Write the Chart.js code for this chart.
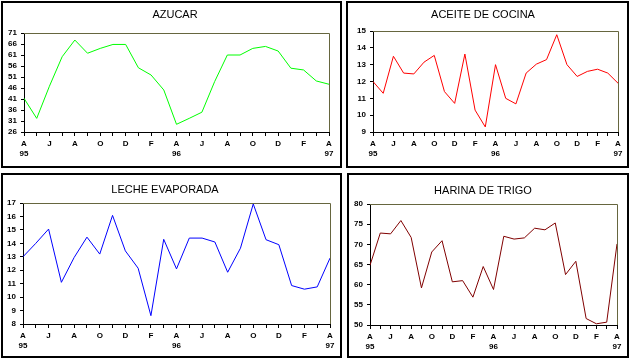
<!DOCTYPE html>
<html>
<head>
<meta charset="utf-8">
<script src="https://cdn.jsdelivr.net/npm/chart.js@4/dist/chart.umd.min.js"></script>
<style>
  body { margin: 0; background: #fff; width: 630px; height: 359px; position: relative; overflow: hidden; }
  .panel { position: absolute; box-sizing: border-box; border: 2px solid #000; background: #fff; }
  .panel canvas { position: absolute; left: 0; top: 0; }
</style>
</head>
<body>
<div class="panel" style="left:1px;top:1px;width:341px;height:167px"><canvas id="azucar" width="337" height="163"></canvas></div>
<div class="panel" style="left:346px;top:1px;width:283px;height:167px"><canvas id="aceite" width="279" height="163"></canvas></div>
<div class="panel" style="left:1px;top:173px;width:341px;height:185px"><canvas id="leche" width="337" height="181"></canvas></div>
<div class="panel" style="left:347px;top:173px;width:282px;height:185px"><canvas id="harina" width="278" height="181"></canvas></div>
<script>
// abril 95 .. abril 97, mensual
const months = ['A', 'M', 'J', 'J', 'A', 'S', 'O', 'N', 'D', 'E', 'F', 'M',
  'A', 'M', 'J', 'J', 'A', 'S', 'O', 'N', 'D', 'E', 'F', 'M', 'A'];
const years = ['95', '', '', '', '', '', '', '', '', '', '', '',
  '96', '', '', '', '', '', '', '', '', '', '', '', '97'];

const azucar = [41.3, 32.2, 46.8, 60.2, 67.8, 61.8, 64.0, 65.8, 65.8, 55.2, 51.9, 45.1,
  29.5, 32.2, 35.0, 48.9, 61.0, 61.0, 64.0, 64.9, 62.8, 55.0, 54.2, 49.2, 47.7];
const aceite = [12.0, 11.3, 13.5, 12.5, 12.45, 13.15, 13.55, 11.4, 10.7, 13.63, 10.3, 9.3,
  13.0, 11.0, 10.67, 12.5, 13.03, 13.3, 14.78, 13.0, 12.3, 12.6, 12.73, 12.5, 11.9];
const leche = [13.0, 14.0, 15.06, 11.1, 12.95, 14.46, 13.2, 16.08, 13.44, 12.15, 8.62, 14.3,
  12.1, 14.39, 14.39, 14.1, 11.85, 13.64, 16.93, 14.27, 13.9, 10.86, 10.59, 10.76, 12.9];
const harina = [64.8, 72.8, 72.6, 75.9, 71.7, 59.2, 68.1, 70.9, 60.7, 61.0, 56.9, 64.5,
  58.8, 72.0, 71.3, 71.6, 74.0, 73.6, 75.3, 62.5, 65.8, 51.6, 50.3, 50.7, 70.1];

const tickFont = { family: 'Arial, "Liberation Sans", sans-serif', size: 8, weight: 'bold' };

// titulo y borde superior/derecho del area del grafico
const panelDeco = {
  id: 'panelDeco',
  afterDraw(chart, args, opts) {
    const ctx = chart.ctx;
    const a = chart.chartArea;
    ctx.save();
    ctx.strokeStyle = '#66663f';
    ctx.lineWidth = 1;
    ctx.beginPath();
    ctx.moveTo(a.left, Math.round(a.top) + 0.5);
    ctx.lineTo(Math.round(a.right) + 0.5, Math.round(a.top) + 0.5);
    ctx.lineTo(Math.round(a.right) + 0.5, a.bottom);
    ctx.stroke();
    ctx.fillStyle = '#000';
    ctx.font = '11px Arial, "Liberation Sans", sans-serif';
    ctx.textAlign = 'center';
    ctx.textBaseline = 'middle';
    ctx.fillText(opts.text, opts.x, opts.y);
    ctx.restore();
  }
};

function makePanel(id, title, values, color, yMin, yMax, step, box) {
  return new Chart(document.getElementById(id), {
    type: 'line',
    data: {
      labels: months,
      datasets: [{
        data: values,
        borderColor: color,
        borderWidth: 1,
        pointRadius: 0,
        tension: 0,
        fill: false
      }]
    },
    options: {
      responsive: false,
      animation: false,
      devicePixelRatio: 1,
      layout: { padding: { top: box.top, right: box.right, left: 0, bottom: 0 } },
      scales: {
        x: {
          offset: false,
          border: { color: '#000', width: 1 },
          grid: { drawOnChartArea: false, color: '#000', tickLength: 4 },
          ticks: {
            autoSkip: false,
            maxRotation: 0,
            padding: 3,
            color: '#000',
            font: tickFont,
            callback: (v, i) => i % 2 === 0 ? [months[i], years[i]] : ''
          },
          afterFit: (s) => { s.height = box.xh; }
        },
        y: {
          min: yMin,
          max: yMax,
          border: { color: '#000', width: 1 },
          grid: { drawOnChartArea: false, color: '#000', tickLength: 3 },
          ticks: { stepSize: step, autoSkip: false, padding: 4, color: '#000', font: tickFont },
          afterFit: (s) => { s.width = box.yw; }
        }
      },
      plugins: {
        legend: { display: false },
        tooltip: { enabled: false },
        panelDeco: { text: title, x: box.tx, y: box.ty }
      }
    },
    plugins: [panelDeco]
  });
}

makePanel('azucar', 'AZUCAR', azucar, '#00ff00', 26, 71, 5,
  { top: 30, right: 11, xh: 34, yw: 21, tx: 172, ty: 12 });
makePanel('aceite', 'ACEITE DE COCINA', aceite, '#ff0000', 9, 15, 1,
  { top: 28, right: 9, xh: 34, yw: 25, tx: 135, ty: 12 });
makePanel('leche', 'LECHE EVAPORADA', leche, '#0000ff', 8, 17, 1,
  { top: 28, right: 10, xh: 32, yw: 20, tx: 162, ty: 15 });
makePanel('harina', 'HARINA DE TRIGO', harina, '#800000', 50, 80, 5,
  { top: 29, right: 10, xh: 31, yw: 21, tx: 134, ty: 16 });
</script>
</body>
</html>
